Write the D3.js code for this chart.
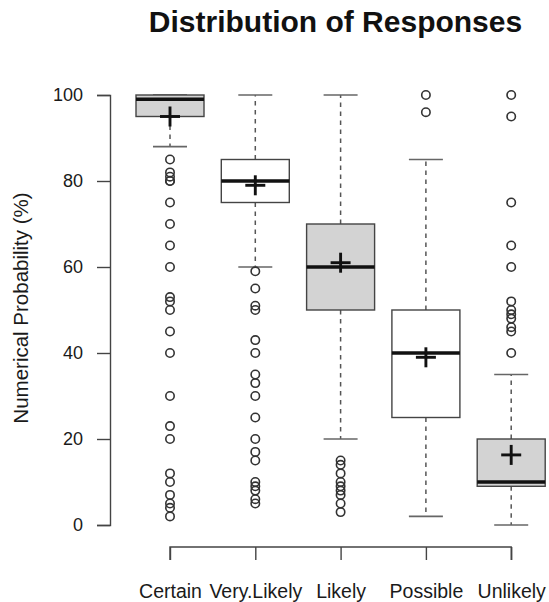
<!DOCTYPE html>
<html>
<head>
<meta charset="utf-8">
<script src="https://cdn.jsdelivr.net/npm/d3@7"></script>
<style>
  html, body { margin: 0; padding: 0; background: #fff; }
  svg { display: block; font-family: "Liberation Sans", Arial, sans-serif; }
</style>
</head>
<body>
<svg id="chart" width="549" height="602"></svg>
<script>
// ---- data ----
const categories = ["Certain", "Very.Likely", "Likely", "Possible", "Unlikely"];
const q1 = [95, 75, 50, 25, 9];
const medians = [99, 80, 60, 40, 10];
const q3 = [100, 85, 70, 50, 20];
const whiskerLow = [88, 60, 20, 2, 0];
const whiskerHigh = [100, 100, 100, 85, 35];
const means = [95, 79, 61, 39, 16.3];
const shaded = [true, false, true, false, true];
const outliersCertain = [85, 82, 81, 80, 80, 75, 70, 65, 60, 53, 52, 50, 45, 40, 30, 23, 20, 12, 10, 7, 5, 4, 2];
const outliersVeryLikely = [59, 55, 51, 50, 43, 40, 35, 33, 30, 25, 20, 17, 15, 10, 9, 8, 6, 5];
const outliersLikely = [15, 14, 12, 10, 9, 8, 7, 5, 3];
const outliersPossible = [100, 96];
const outliersUnlikely = [100, 95, 75, 65, 60, 52, 50, 49, 48, 46, 45, 40];
const outliers = [outliersCertain, outliersVeryLikely, outliersLikely, outliersPossible, outliersUnlikely];
const yTicks = [0, 20, 40, 60, 80, 100];
const titleText = "Distribution of Responses";
const yTitle = "Numerical Probability (%)";

// ---- layout ----
const svg = d3.select("#chart");
const y = d3.scaleLinear().domain([0, 100]).range([525, 95]);
const x = d3.scalePoint().domain(categories).range([170, 511.2]);
const boxW = 68;
const axisColor = "#444";

// title
svg.append("text")
  .attr("x", 335.5).attr("y", 32)
  .attr("text-anchor", "middle")
  .attr("font-size", 30).attr("font-weight", "bold")
  .attr("fill", "#111")
  .text(titleText);

// y axis
const yAxis = svg.append("g").attr("transform", "translate(110,0)")
  .call(d3.axisLeft(y).tickValues(yTicks).tickSize(13).tickPadding(14));
yAxis.select(".domain").attr("stroke", axisColor).attr("stroke-width", 1.4);
yAxis.selectAll(".tick line").attr("stroke", axisColor).attr("stroke-width", 1.4);
yAxis.selectAll(".tick text").attr("font-size", 18).attr("fill", "#1a1a1a")
  .attr("font-family", "Liberation Sans, Arial, sans-serif");

// y title
svg.append("text")
  .attr("transform", "translate(28,308) rotate(-90)")
  .attr("text-anchor", "middle")
  .attr("font-size", 20.5).attr("fill", "#1a1a1a")
  .text(yTitle);

// x axis
const xAxis = svg.append("g").attr("transform", "translate(0,547)")
  .call(d3.axisBottom(x).tickSize(13).tickPadding(24));
xAxis.select(".domain").attr("stroke", axisColor).attr("stroke-width", 1.4)
  .attr("d", `M${x(categories[0])},13V0H${x(categories[categories.length-1])}V13`);
xAxis.selectAll(".tick line").attr("stroke", axisColor).attr("stroke-width", 1.4);
xAxis.selectAll(".tick text").attr("font-size", 19.5).attr("fill", "#1a1a1a")
  .attr("font-family", "Liberation Sans, Arial, sans-serif");

// boxes
const idx = d3.range(categories.length);
const g = svg.append("g");
idx.forEach(i => {
  const cx = x(categories[i]);
  const grp = g.append("g");
  // whiskers (dashed)
  grp.append("line").attr("x1", cx).attr("x2", cx)
    .attr("y1", y(q3[i])).attr("y2", y(whiskerHigh[i]))
    .attr("stroke", "#555").attr("stroke-width", 1.5).attr("stroke-dasharray", "4.5,4.5");
  grp.append("line").attr("x1", cx).attr("x2", cx)
    .attr("y1", y(q1[i])).attr("y2", y(whiskerLow[i]))
    .attr("stroke", "#555").attr("stroke-width", 1.5).attr("stroke-dasharray", "4.5,4.5");
  // caps
  [whiskerHigh[i], whiskerLow[i]].forEach(v => {
    grp.append("line").attr("x1", cx - boxW / 4).attr("x2", cx + boxW / 4)
      .attr("y1", y(v)).attr("y2", y(v))
      .attr("stroke", "#666").attr("stroke-width", 1.6);
  });
  // box
  grp.append("rect")
    .attr("x", cx - boxW / 2).attr("width", boxW)
    .attr("y", y(q3[i])).attr("height", y(q1[i]) - y(q3[i]))
    .attr("fill", shaded[i] ? "#d3d3d3" : "#fff")
    .attr("stroke", "#444").attr("stroke-width", 1.4);
  // median
  grp.append("line").attr("x1", cx - boxW / 2).attr("x2", cx + boxW / 2)
    .attr("y1", y(medians[i])).attr("y2", y(medians[i]))
    .attr("stroke", "#111").attr("stroke-width", 3.6);
  // outliers
  grp.selectAll("circle").data(outliers[i]).join("circle")
    .attr("cx", cx).attr("cy", d => y(d)).attr("r", 4.2)
    .attr("fill", "none").attr("stroke", "#333").attr("stroke-width", 1.6);
  // mean cross
  const my = y(means[i]);
  grp.append("line").attr("x1", cx - 10).attr("x2", cx + 10)
    .attr("y1", my).attr("y2", my).attr("stroke", "#111").attr("stroke-width", 2.9);
  grp.append("line").attr("x1", cx).attr("x2", cx)
    .attr("y1", my - 10).attr("y2", my + 10).attr("stroke", "#111").attr("stroke-width", 2.9);
});
</script>
</body>
</html>
